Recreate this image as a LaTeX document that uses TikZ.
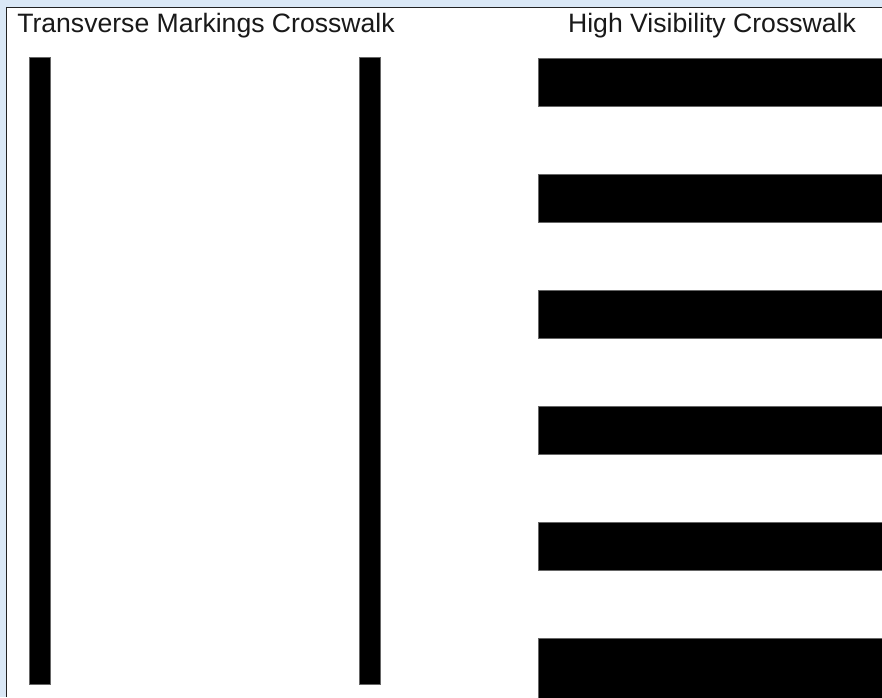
\documentclass[tikz,border=0pt]{standalone}
\usepackage{fontspec}
\setmainfont{Liberation Sans}
\definecolor{bgblue}{HTML}{DAE8F6}
\definecolor{edge}{HTML}{222222}
\begin{document}
\begin{tikzpicture}[x=1pt,y=-1pt,
  bar/.style={fill=black,draw=black!60,line width=0.5pt},
  title/.style={font=\fontsize{26.6}{30}\selectfont,text=black!90,anchor=base,inner sep=0pt}]
\fill[bgblue] (0,0) rectangle (882,697);
\useasboundingbox (0,0) rectangle (882,697);
\fill[white] (7,8) rectangle (882,697);
\draw[edge,line width=1.4pt] (6.6,697) -- (6.6,7.6) -- (882,7.6);
% transverse markings
\filldraw[bar] (29,57) rectangle (50,684);
\filldraw[bar] (359,57) rectangle (380,684);
% high visibility stripes
\foreach \i in {0,...,4}{
  \filldraw[bar] (538,58+116*\i) rectangle (883,106+116*\i);
}
\filldraw[bar] (538,638) rectangle (883,698);
\node[title] (t1) at (206,32.5) {Transverse Markings Crosswalk};
\node[title] (t2) at (712,32.5) {High Visibility Crosswalk};
\end{tikzpicture}
\end{document}
